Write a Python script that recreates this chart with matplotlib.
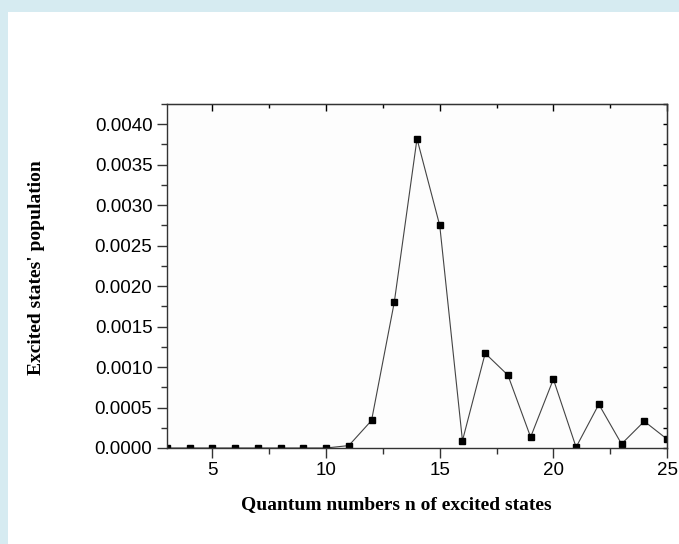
#!/usr/bin/env python3
"""Population of excited states vs. quantum number n."""

import matplotlib

matplotlib.use("Agg")
import matplotlib.pyplot as plt
from matplotlib.patches import Rectangle
from matplotlib.ticker import MultipleLocator

n_values = [3, 4, 5, 6, 7, 8, 9, 10, 11, 12, 13, 14, 15, 16, 17, 18, 19, 20, 21, 22, 23, 24, 25]
population = [
    0.0, 0.0, 0.0, 0.0, 0.0, 0.0, 0.0, 0.0, 0.00003, 0.00034, 0.00180, 0.00382,
    0.00275, 0.00009, 0.00117, 0.00090, 0.000135, 0.00085, 0.00001, 0.00054,
    0.00005, 0.00033, 0.00011,
]
y_ticks = [0.0, 0.0005, 0.0010, 0.0015, 0.0020, 0.0025, 0.0030, 0.0035, 0.0040]
x_ticks = [5, 10, 15, 20, 25]

fig = plt.figure(figsize=(6.79, 5.44), dpi=100)
fig.patch.set_facecolor("#d6ebf1")
panel = Rectangle((8 / 679, 0), 1, 1 - 12 / 544, transform=fig.transFigure,
                  facecolor="white", edgecolor="none", zorder=-10)
fig.add_artist(panel)

ax = fig.add_axes([167 / 679, 1 - 448 / 544, 500 / 679, 344 / 544])
ax.set_zorder(1)
ax.set_facecolor("#fdfdfd")
ax.plot(n_values, population, color="#444444", linewidth=0.8,
        marker="s", markersize=5, markerfacecolor="black",
        markeredgecolor="black", clip_on=True)

ax.set_xlim(3, 25)
ax.set_ylim(0, 0.00425)
ax.set_xticks(x_ticks)
ax.set_yticks(y_ticks)
ax.set_yticklabels([f"{v:.4f}" for v in y_ticks])
ax.xaxis.set_minor_locator(MultipleLocator(2.5))
ax.yaxis.set_minor_locator(MultipleLocator(0.00025))

for spine in ax.spines.values():
    spine.set_linewidth(1.0)
    spine.set_color("#333333")

ax.tick_params(axis="both", which="both", labelsize=13.5, color="#333333")
ax.tick_params(axis="both", which="major", direction="out", length=7, width=1.0)
ax.tick_params(axis="both", which="minor", direction="out", length=4, width=1.0)
ax.tick_params(axis="x", pad=3)

# mirrored ticks on top and right, pointing inward
top = ax.secondary_xaxis("top")
top.set_xticks(x_ticks)
top.xaxis.set_minor_locator(MultipleLocator(2.5))
top.tick_params(which="major", direction="in", length=5, width=1.0, labeltop=False)
top.tick_params(which="minor", direction="in", length=3, width=1.0)
right = ax.secondary_yaxis("right")
right.set_yticks(y_ticks)
right.yaxis.set_minor_locator(MultipleLocator(0.00025))
right.tick_params(which="major", direction="in", length=3, width=1.0, labelright=False)
right.tick_params(which="minor", direction="in", length=3, width=1.0)

for label in ax.get_xticklabels() + ax.get_yticklabels():
    label.set_family("Liberation Sans")

fig.text(396 / 679, 1 - 505 / 544, "Quantum numbers n of excited states",
         ha="center", va="center", family="Liberation Serif",
         fontweight="bold", fontsize=14)
fig.text(37 / 679, 1 - 268 / 544, "Excited states' population",
         ha="center", va="center", rotation=90, family="Liberation Serif",
         fontweight="bold", fontsize=14)

fig.savefig("out.png", dpi=100, facecolor=fig.get_facecolor())
